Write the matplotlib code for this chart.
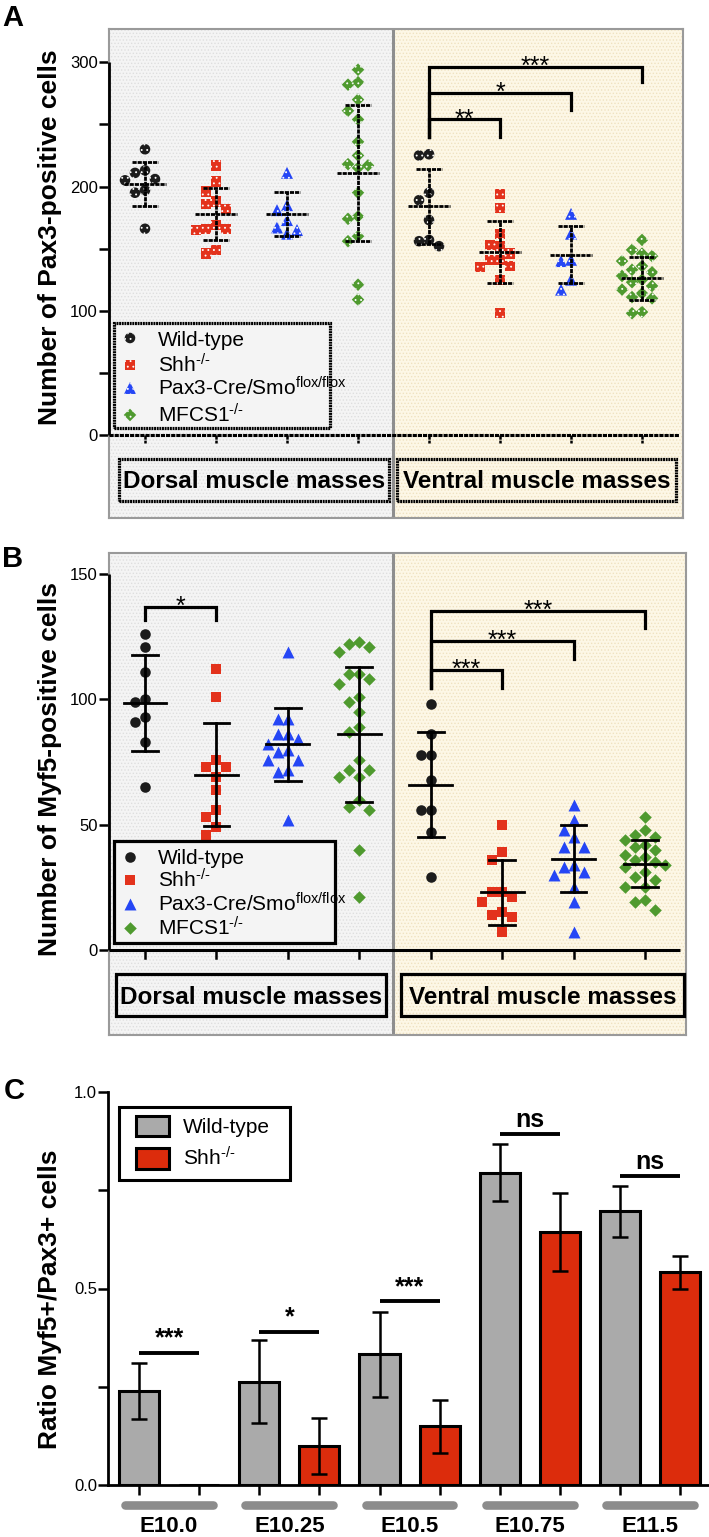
import matplotlib
matplotlib.use("Agg")
import matplotlib.pyplot as plt
import matplotlib.patches as patches
import matplotlib.transforms as mtransforms

plt.rcParams['font.family'] = ['Liberation Sans', 'DejaVu Sans']
plt.rcParams['mathtext.default'] = 'regular'
plt.rcParams['lines.scale_dashes'] = False
plt.rcParams['hatch.linewidth'] = 0.6

W, H = 709, 1537

# ---------------- data ----------------
genotypes = ['Wild-type', 'Shh$^{\u2010/\u2010}$', 'Pax3-Cre/Smo$^{flox/flox}$',
             'MFCS1$^{\u2010/\u2010}$']
regions = ['Dorsal muscle masses', 'Ventral muscle masses']

# A: number of Pax3-positive cells
pax3_dorsal_wt = [230, 213, 211, 206, 205, 197, 195, 166]
pax3_dorsal_shh = [217, 204, 196, 188, 186, 182, 169, 166, 166, 165, 149, 146]
pax3_dorsal_smo = [211, 185, 181, 173, 167, 165, 162]
pax3_dorsal_mfcs = [294, 284, 282, 270, 261, 254, 236, 225, 218, 217, 215,
                    195, 176, 174, 160, 156, 121, 109]
pax3_ventral_wt = [226, 225, 195, 189, 173, 157, 156, 152]
pax3_ventral_shh = [194, 183, 162, 153, 152, 146, 141, 141, 136, 135, 125, 98]
pax3_ventral_smo = [178, 162, 141, 140, 125, 117]
pax3_ventral_mfcs = [157, 149, 146, 144, 140, 136, 133, 131, 128, 125, 123,
                     120, 117, 114, 111, 110, 99, 98]
pax3_mean = [202, 178, 178, 211, 184, 147, 145, 126]
pax3_sd = [18, 21, 18, 55, 30, 25, 23, 17]
pax3_sig = ['**', '*', '***']
pax3_sig_pairs = [(4, 5), (4, 6), (4, 7)]
pax3_sig_top = [254, 275, 296]
pax3_sig_leg = [240, 262, 284]

# B: number of Myf5-positive cells
myf5_dorsal_wt = [126, 121, 111, 100, 99, 93, 91, 83, 65]
myf5_dorsal_shh = [112, 101, 76, 73, 73, 69, 64, 56, 53, 49, 46]
myf5_dorsal_smo = [119, 92, 92, 86, 86, 84, 82, 80, 79, 76, 76, 72, 71, 52]
myf5_dorsal_mfcs = [123, 122, 121, 119, 110, 110, 108, 106, 101, 99, 95, 89,
                    87, 76, 72, 72, 69, 69, 60, 57, 56, 40, 21]
myf5_ventral_wt = [98, 86, 78, 78, 68, 56, 56, 47, 29]
myf5_ventral_shh = [50, 39, 36, 23, 23, 21, 19, 15, 14, 13, 7]
myf5_ventral_smo = [58, 52, 48, 45, 41, 41, 34, 33, 31, 30, 25, 19, 7]
myf5_ventral_mfcs = [53, 48, 46, 45, 44, 42, 41, 40, 38, 37, 36, 35, 34, 33,
                     31, 29, 28, 25, 25, 20, 19, 16]
myf5_mean = [98.6, 70, 82, 86, 66, 23, 36.5, 34.5]
myf5_sd = [19, 20.5, 14.5, 27, 21, 13, 13.5, 9.5]
myf5_sig = ['*', '***', '***', '***']
myf5_sig_pairs = [(0, 1), (4, 5), (4, 6), (4, 7)]
myf5_sig_top = [137, 111.7, 123.4, 135.4]
myf5_sig_leg = [131.6, 104.4, 116.3, 128.3]

# C: ratio Myf5+/Pax3+ cells (mean, error)
stages = ['E10.0', 'E10.25', 'E10.5', 'E10.75', 'E11.5']
ratio_wt = [0.240, 0.263, 0.333, 0.795, 0.696]
ratio_wt_err = [0.071, 0.106, 0.108, 0.072, 0.065]
ratio_shh = [0.0, 0.099, 0.149, 0.643, 0.541]
ratio_shh_err = [0.0, 0.071, 0.067, 0.099, 0.042]
ratio_sig = ['***', '*', '***', 'ns', 'ns']
ratio_sig_y = [0.337, 0.390, 0.467, 0.893, 0.787]

# ---------------- styles ----------------
colors = ['#1c1c1c', '#e3321c', '#2546f5', '#4f9a2f']
markers = ['o', 's', '^', 'D']
msizes = [7.6, 7.4, 8.6, 6.4]

fig = plt.figure(figsize=(W / 100, H / 100), dpi=100)


def add_axes_px(x0, y0, x1, y1):
    return fig.add_axes([x0 / W, 1 - y1 / H, (x1 - x0) / W, (y1 - y0) / H])


def px2data(ax, x, y):
    return ax.transData.inverted().transform((x, H - y))


def px_per_unit(ax):
    p0 = ax.transData.transform((0, 0))
    p1 = ax.transData.transform((1, 1))
    return p1[0] - p0[0], p1[1] - p0[1]


def swarm(ax, values, step_px=10.0, min_dy_px=12.0):
    # greedy beeswarm: spread points sideways when they would overlap
    ppx, ppy = px_per_unit(ax)
    cands = [0]
    for k in range(1, 8):
        cands += [-k, k]
    placed, offs = [], []
    for v in values:
        yp = v * ppy
        for c in cands:
            xp = c * step_px
            if all(abs(xp - a) >= step_px * 0.95 or abs(yp - b) >= min_dy_px
                   for a, b in placed):
                break
        placed.append((xp, yp))
        offs.append(xp / ppx)
    return offs


def kline(ax, xs, ys, lw, patterned, **kw):
    if patterned:
        ax.plot(xs, ys, color='k', lw=lw, dashes=(3.0, 0.7), **kw)
    else:
        ax.plot(xs, ys, color='k', lw=lw, **kw)


def dot_panel(ax, series, means, sds, yticks, yminor, pairs, tops, legs, sigs,
              patterned, div_px, zero_end_px, boxes_px, legend_px, legend_rows):
    x_lo, x_hi = ax.get_xlim()
    div_x = px2data(ax, div_px, 0)[0]
    hatch = '.....'
    ax.axvspan(x_lo, div_x, facecolor='#f4f4f4', edgecolor='#dedede',
               hatch=hatch, lw=0, zorder=0)
    ax.axvspan(div_x, x_hi, facecolor='#fdf7e6', edgecolor='#efe2c0',
               hatch=hatch, lw=0, zorder=0)
    ax.axvline(div_x, color='#8e8e8e', lw=2.2, zorder=1)
    for sp in ax.spines.values():
        sp.set_color('#9a9a9a')
        sp.set_linewidth(1.5)
    ax.plot([x_lo, x_lo], [0, yticks[-1]], color='k', lw=2, clip_on=False,
            zorder=5, solid_capstyle='butt')
    ax.set_xticks([])
    ax.set_yticks(yticks)
    ax.set_yticks(yminor, minor=True)
    ax.tick_params(axis='y', which='both', length=7, width=1.8, color='k',
                   pad=1, labelsize=12)

    ppx, ppy = px_per_unit(ax)
    zero_end = px2data(ax, zero_end_px, 0)[0]
    kline(ax, [x_lo, zero_end], [0, 0], 2.2, patterned, zorder=4,
          solid_capstyle='butt')
    tick_len = 8 / ppy
    for i in range(len(series)):
        kline(ax, [i, i], [0, -tick_len], 1.8, patterned, zorder=4)

    for i, vals in enumerate(series):
        g = i % 4
        offs = swarm(ax, vals)
        xs = [i + o for o in offs]
        kw = dict(s=msizes[g] ** 2, marker=markers[g], c=colors[g], zorder=3)
        if patterned:
            ax.scatter(xs, vals, edgecolors='white', linewidths=0,
                       hatch='...', **kw)
        else:
            ax.scatter(xs, vals, linewidths=0, **kw)

    for i, (m, sd) in enumerate(zip(means, sds)):
        kline(ax, [i - 0.30, i + 0.30], [m, m], 2.0, patterned, zorder=4)
        kline(ax, [i - 0.18, i + 0.18], [m + sd, m + sd], 2.0, patterned, zorder=4)
        kline(ax, [i - 0.18, i + 0.18], [m - sd, m - sd], 2.0, patterned, zorder=4)
        kline(ax, [i, i], [m - sd, m + sd], 2.0, patterned, zorder=4)

    for (a, b), top, leg, s in zip(pairs, tops, legs, sigs):
        left_bottom = min(l for (p, q), l in zip(pairs, legs) if p == a)
        ax.plot([a, a, b, b], [left_bottom, top, top, leg], color='k', lw=2.3,
                zorder=4, solid_joinstyle='miter')
        ax.annotate(s, ((a + b) / 2, top), xytext=(0, -5),
                    textcoords='offset points', ha='center', va='baseline',
                    fontsize=18)

    box_ls = (0, (1.4, 0.5)) if patterned else '-'
    for (x0, y0, x1, y1), label in zip(boxes_px, regions):
        d0 = px2data(ax, x0, y1)
        d1 = px2data(ax, x1, y0)
        ax.add_patch(patches.Rectangle(d0, d1[0] - d0[0], d1[1] - d0[1],
                                       fill=False, lw=2.3, linestyle=box_ls,
                                       edgecolor='k', clip_on=False, zorder=5))
        tx, ty = px2data(ax, (x0 + x1) / 2, (y0 + y1) / 2 + 8.5)
        ax.text(tx, ty, label, ha='center', va='baseline', fontsize=17.5,
                fontweight='bold', zorder=6)

    x0, y0, x1, y1 = legend_px
    d0 = px2data(ax, x0, y1)
    d1 = px2data(ax, x1, y0)
    ax.add_patch(patches.Rectangle(d0, d1[0] - d0[0], d1[1] - d0[1],
                                   facecolor='#f4f4f4', edgecolor='k',
                                   lw=2.3, linestyle=box_ls, zorder=6))
    for g, ry in enumerate(legend_rows):
        mx, my = px2data(ax, x0 + 16, ry)
        kw = dict(s=msizes[g] ** 2, marker=markers[g], c=colors[g], zorder=7,
                  clip_on=False)
        if patterned:
            ax.scatter([mx], [my], edgecolors='white', linewidths=0,
                       hatch='...', **kw)
        else:
            ax.scatter([mx], [my], linewidths=0, **kw)
        tx, ty = px2data(ax, x0 + 44, ry + 7.5)
        ax.text(tx, ty, genotypes[g], ha='left', va='baseline', fontsize=15,
                zorder=7)


# ---------------- panel A ----------------
axA = add_axes_px(109, 29, 683, 518)
axA.set_xlim(-0.507, 7.577)
axA.set_ylim(-66.8, 326.8)
seriesA = [pax3_dorsal_wt, pax3_dorsal_shh, pax3_dorsal_smo, pax3_dorsal_mfcs,
           pax3_ventral_wt, pax3_ventral_shh, pax3_ventral_smo, pax3_ventral_mfcs]
dot_panel(axA, seriesA, pax3_mean, pax3_sd, [0, 100, 200, 300], [50, 150, 250],
          pax3_sig_pairs, pax3_sig_top, pax3_sig_leg, pax3_sig, True,
          393, 679, [(119, 459, 389, 501), (397, 459, 676, 501)],
          (114, 323, 330, 428), [338, 365, 388, 415])

# ---------------- panel B ----------------
axB = add_axes_px(109, 553, 686, 1035)
axB.set_xlim(-0.504, 7.574)
axB.set_ylim(-33.9, 158.4)
seriesB = [myf5_dorsal_wt, myf5_dorsal_shh, myf5_dorsal_smo, myf5_dorsal_mfcs,
           myf5_ventral_wt, myf5_ventral_shh, myf5_ventral_smo, myf5_ventral_mfcs]
dot_panel(axB, seriesB, myf5_mean, myf5_sd, [0, 50, 100, 150], [],
          myf5_sig_pairs, myf5_sig_top, myf5_sig_leg, myf5_sig, False,
          393, 680, [(116, 974, 386, 1016), (401, 974, 684, 1016)],
          (114, 841, 335, 943), [857, 880, 904, 928])

# ---------------- panel C ----------------
axC = add_axes_px(108, 1092, 709, 1485)
axC.set_xlim(-0.516, 9.48)
axC.set_ylim(0, 1)
wt_x = [2 * i for i in range(len(stages))]
shh_x = [2 * i + 1 for i in range(len(stages))]
axC.bar(wt_x, ratio_wt, width=0.667, color='#aaaaaa', edgecolor='k',
        linewidth=2.2, zorder=2)
axC.bar(shh_x, ratio_shh, width=0.667, color='#dc2c0c', edgecolor='k',
        linewidth=2.2, zorder=2)
axC.errorbar(wt_x, ratio_wt, yerr=ratio_wt_err, fmt='none', ecolor='k',
             elinewidth=1.8, capsize=5.5, capthick=1.8, zorder=3)
keep = [k for k, v in enumerate(ratio_shh) if v > 0]
axC.errorbar([shh_x[k] for k in keep], [ratio_shh[k] for k in keep],
             yerr=[ratio_shh_err[k] for k in keep], fmt='none', ecolor='k',
             elinewidth=1.8, capsize=5.5, capthick=1.8, zorder=3)
for sp in ['top', 'right']:
    axC.spines[sp].set_visible(False)
for sp in ['left', 'bottom']:
    axC.spines[sp].set_linewidth(2)
axC.spines['left'].set_bounds(0, 1)
axC.set_yticks([0, 0.5, 1.0])
axC.set_yticklabels(['0.0', '0.5', '1.0'])
axC.set_yticks([0.25, 0.75], minor=True)
axC.set_xticks(wt_x + shh_x)
axC.tick_params(axis='both', which='both', length=7, width=1.8, pad=1,
                labelsize=12)
axC.tick_params(axis='x', labelbottom=False)

blend = mtransforms.blended_transform_factory(axC.transData, axC.transAxes)
for i, st in enumerate(stages):
    c = 2 * i + 0.5
    axC.plot([c - 0.73, c + 0.73], [-0.051, -0.051], transform=blend,
             color='#8c8c8c', lw=6.2, solid_capstyle='round', clip_on=False)
    axC.text(c, -0.12, st, transform=blend, ha='center', va='baseline',
             fontsize=16, fontweight='bold')
    y = ratio_sig_y[i]
    axC.plot([2 * i, 2 * i + 1], [y, y], color='k', lw=2.8,
             solid_capstyle='butt', zorder=4)
    axC.annotate(ratio_sig[i], (c, y), xytext=(0, 5), textcoords='offset points',
                 ha='center', va='baseline', fontsize=18, fontweight='bold')

# legend of panel C
lx0, ly0 = px2data(axC, 119, 1180)
lx1, ly1 = px2data(axC, 290, 1107)
axC.add_patch(patches.Rectangle((lx0, ly0), lx1 - lx0, ly1 - ly0, facecolor='white',
                                edgecolor='k', lw=2.2, zorder=6, clip_on=False))
for (top, bottom, base), col, lab in zip([(1116, 1136, 1133), (1148, 1169, 1165)],
                                         ['#aaaaaa', '#dc2c0c'],
                                         ['Wild-type', genotypes[1]]):
    p0 = px2data(axC, 136, bottom)
    p1 = px2data(axC, 169, top)
    axC.add_patch(patches.Rectangle(p0, p1[0] - p0[0], p1[1] - p0[1], facecolor=col,
                                    edgecolor='k', lw=2.2, zorder=7, clip_on=False))
    tx, ty = px2data(axC, 183, base)
    axC.text(tx, ty, lab, ha='left', va='baseline', fontsize=15, zorder=7)

# ---------------- labels ----------------
for lab, (x, y) in zip('ABC', [(2, 26), (2, 567), (4, 1099)]):
    fig.text(x / W, 1 - y / H, lab, fontsize=21, fontweight='bold',
             ha='left', va='baseline')
for lab, y in zip(['Number of Pax3-positive cells', 'Number of Myf5-positive cells',
                   'Ratio Myf5+/Pax3+ cells'], [237, 769, 1299]):
    fig.text(50 / W, 1 - y / H, lab, rotation=90, fontsize=19, fontweight='bold',
             ha='center', va='center')

fig.savefig('out.png', dpi=100)
